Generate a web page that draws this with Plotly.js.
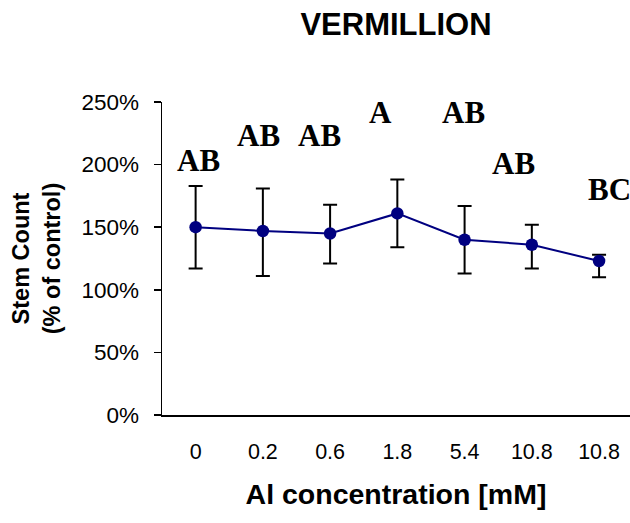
<!DOCTYPE html>
<html>
<head>
<meta charset="utf-8">
<script src="https://cdn.plot.ly/plotly-3.0.1.min.js"></script>
<style>
html, body { margin: 0; padding: 0; overflow: hidden; background: #ffffff; }
#chart { width: 630px; height: 523px; }
</style>
</head>
<body>
<div id="chart"></div>
<script>
// ---- data ----
const concentrations = ["0", "0.2", "0.6", "1.8", "5.4", "10.8", "10.8"];
const stemCountPct = [150, 147, 145, 161, 140, 136, 123];
const errorUpperPct = [183, 181, 168, 188, 167, 152, 128];
const errorLowerPct = [117, 111, 121, 134, 113, 117, 110];
const significanceLetters = ["AB", "AB", "AB", "A", "AB", "AB", "BC"];

// ---- layout helpers (positions of letter labels, in data units) ----
const letterX = [0.05, 0.94, 1.84, 2.75, 3.99, 4.72, 6.15];
const letterY = [203, 223, 223, 241.5, 241.5, 201, 180];

const idx = concentrations.map((_, i) => i);
const plusErr = stemCountPct.map((v, i) => errorUpperPct[i] - v);
const minusErr = stemCountPct.map((v, i) => v - errorLowerPct[i]);

const trace = {
  x: idx,
  y: stemCountPct,
  type: "scatter",
  mode: "lines+markers",
  line: { color: "#000080", width: 2 },
  marker: { color: "#000080", size: 12.5 },
  error_y: {
    type: "data",
    symmetric: false,
    array: plusErr,
    arrayminus: minusErr,
    color: "#000000",
    thickness: 2,
    width: 7
  },
  hoverinfo: "none",
  showlegend: false
};

const annotations = significanceLetters.map((t, i) => ({
  x: letterX[i], y: letterY[i], xref: "x", yref: "y",
  text: "<b>" + t + "</b>", showarrow: false,
  xanchor: "center", yanchor: "middle",
  font: { family: "Liberation Serif, Times New Roman, serif", size: 31, color: "#000" }
}));

const xRange = [-0.5, 6.46];

const layout = {
  width: 630, height: 523,
  margin: { l: 162, r: 0, t: 102, b: 108, pad: 0 },
  paper_bgcolor: "#ffffff",
  plot_bgcolor: "#ffffff",
  font: { family: "Liberation Sans, Arial, sans-serif", color: "#000" },
  title: {
    text: "<b>VERMILLION</b>",
    font: { family: "Liberation Sans, Arial, sans-serif", size: 31, color: "#000" },
    x: 0.5, xref: "paper", xanchor: "center",
    y: 1 - 24 / 523, yref: "container", yanchor: "middle"
  },
  xaxis: {
    range: xRange,
    tickmode: "array",
    tickvals: idx,
    ticktext: concentrations,
    ticks: "",
    ticklabelstandoff: 17,
    showgrid: false, zeroline: false,
    showline: true, linecolor: "#000", linewidth: 1.5,
    tickfont: { size: 21.5 },
    title: {
      text: "<b>Al concentration [mM]</b>",
      font: { size: 28.5 },
      standoff: 21
    },
    fixedrange: true
  },
  xaxis2: {
    overlaying: "x",
    anchor: "y",
    side: "bottom",
    range: xRange,
    tickmode: "array",
    tickvals: [0.5, 1.5, 2.5, 3.5, 4.5, 5.5],
    ticks: "outside", ticklen: 8, tickwidth: 1.5, tickcolor: "#000",
    showticklabels: false,
    showgrid: false, zeroline: false, showline: false
  },
  yaxis: {
    range: [0, 250],
    tickmode: "linear", tick0: 0, dtick: 50,
    ticksuffix: "%",
    ticks: "outside", ticklen: 7, tickwidth: 1.5, tickcolor: "#000",
    ticklabelstandoff: 10,
    showgrid: false, zeroline: false,
    showline: true, linecolor: "#000", linewidth: 1.5,
    tickfont: { size: 22.5 },
    title: {
      text: "<b>Stem Count<br>(% of control)</b>",
      font: { size: 23.5 },
      standoff: 14
    },
    fixedrange: true
  },
  annotations: annotations
};

Plotly.newPlot("chart", [trace], layout, { displayModeBar: false, staticPlot: true });
</script>
</body>
</html>
